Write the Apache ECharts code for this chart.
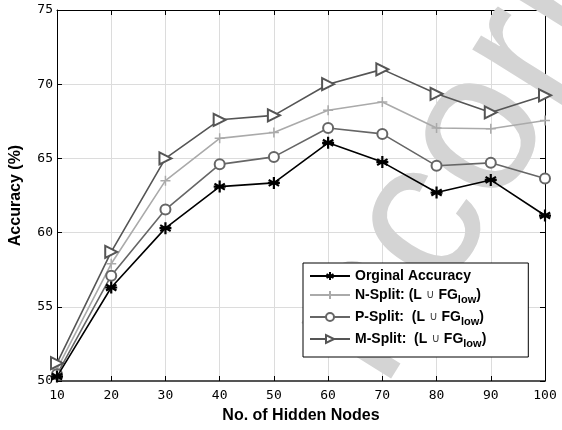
<!DOCTYPE html>
<html>
<head>
<meta charset="utf-8">
<script src="https://cdn.jsdelivr.net/npm/echarts@6/dist/echarts.min.js"></script>
<style>
  html, body { margin: 0; padding: 0; background: #fff; }
  #chart-container { width: 562px; height: 430px; }
</style>
</head>
<body>
<div id="chart-container"></div>
<script>
var hiddenNodes = [10, 20, 30, 40, 50, 60, 70, 80, 90, 100];
var originalAcc = [50.3, 56.3, 60.3, 63.1, 63.35, 66.05, 64.75, 62.7, 63.55, 61.15];
var nSplitAcc = [50.8, 57.9, 63.5, 66.35, 66.75, 68.25, 68.8, 67.05, 67.0, 67.55];
var pSplitAcc = [50.45, 57.1, 61.55, 64.6, 65.1, 67.05, 66.65, 64.5, 64.7, 63.65];
var mSplitAcc = [51.2, 58.7, 65.0, 67.6, 67.9, 70.0, 71.0, 69.35, 68.1, 69.25];
var seriesNames = ['Orginal Accuracy', 'N-Split', 'P-Split', 'M-Split'];

function pairs(vals) {
    return hiddenNodes.map(function (x, i) { return [x, vals[i]]; });
}

var dom = document.getElementById('chart-container');
var myChart = echarts.init(dom, null, { renderer: 'canvas' });

var tickFont = { fontFamily: 'DejaVu Sans Mono', fontSize: 13, color: '#000' };
var starPath = 'path://M0,-10L0,10M-8.66,-5L8.66,5M-8.66,5L8.66,-5M-10,0L10,0';
var plusPath = 'path://M0,-10L0,10M-10,0L10,0';

var option = {
    animation: false,
    backgroundColor: '#fff',
    grid: { left: 54, right: 17, top: 10, bottom: 49 },
    graphic: [{
        type: 'text',
        z: 1,
        silent: true,
        x: 337,
        y: 361,
        rotation: 58 * Math.PI / 180,
        style: {
            text: 'ncorrected',
            font: '200px "Liberation Sans"',
            fill: '#d4d4d4',
            align: 'left',
            verticalAlign: 'middle'
        }
    }],
    legend: {
        orient: 'vertical',
        left: 303,
        top: 263,
        padding: [6, 42, 8, 6],
        itemGap: 5,
        itemWidth: 40,
        itemHeight: 10,
        backgroundColor: '#fff',
        borderColor: '#000',
        borderWidth: 1,
        borderRadius: 0,
        data: seriesNames,
        formatter: function (name) {
            if (name === 'Orginal Accuracy') return '{b|Orginal Accuracy}';
            if (name === 'N-Split') return '{b|N-Split: (L }{u|∪}{b| FG}{s|low}{b|)}';
            return '{b|' + name + ':  (L }{u|∪}{b| FG}{s|low}{b|)}';
        },
        textStyle: {
            rich: {
                b: { fontFamily: 'Liberation Sans', fontWeight: 'bold', fontSize: 14, color: '#000', height: 16 },
                u: { fontFamily: 'DejaVu Sans', fontWeight: 'normal', fontSize: 12, color: '#444', height: 16 },
                s: { fontFamily: 'Liberation Sans', fontWeight: 'bold', fontSize: 11, color: '#000', verticalAlign: 'bottom', padding: [9, 0, 0, 0], height: 16 }
            }
        }
    },
    xAxis: [{
        type: 'value',
        min: 10, max: 100, interval: 10,
        name: 'No. of Hidden Nodes',
        nameLocation: 'middle',
        nameGap: 27,
        nameTextStyle: { fontFamily: 'Liberation Sans', fontWeight: 'bold', fontSize: 16, color: '#000' },
        axisLine: { lineStyle: { color: '#555', width: 2 } },
        axisTick: { inside: true, length: 5, lineStyle: { color: '#000' } },
        axisLabel: Object.assign({ margin: 8 }, tickFont),
        splitLine: { show: true, lineStyle: { color: '#dcdcdc', width: 1 } }
    }, {
        type: 'value',
        position: 'top',
        min: 10, max: 100, interval: 10,
        axisLine: { show: true, lineStyle: { color: '#000', width: 1 } },
        axisTick: { show: true, inside: true, length: 5, lineStyle: { color: '#000' } },
        axisLabel: { show: false },
        splitLine: { show: false }
    }],
    yAxis: [{
        type: 'value',
        min: 50, max: 75, interval: 5,
        name: 'Accuracy (%)',
        nameLocation: 'middle',
        nameGap: 33,
        nameTextStyle: { fontFamily: 'Liberation Sans', fontWeight: 'bold', fontSize: 16, color: '#000' },
        axisLine: { show: true, lineStyle: { color: '#000', width: 1 } },
        axisTick: { show: true, inside: true, length: 5, lineStyle: { color: '#000' } },
        axisLabel: Object.assign({ margin: 4 }, tickFont),
        splitLine: { show: true, lineStyle: { color: '#dcdcdc', width: 1 } }
    }, {
        type: 'value',
        position: 'right',
        min: 50, max: 75, interval: 5,
        axisLine: { show: true, lineStyle: { color: '#000', width: 1 } },
        axisTick: { show: true, inside: true, length: 5, lineStyle: { color: '#000' } },
        axisLabel: { show: false },
        splitLine: { show: false }
    }],
    series: [
        {
            name: seriesNames[0],
            type: 'line',
            data: pairs(originalAcc),
            symbol: starPath,
            symbolSize: 12,
            lineStyle: { color: '#000', width: 1.6 },
            itemStyle: { color: '#000', borderColor: '#000', borderWidth: 2.2 },
            z: 5
        },
        {
            name: seriesNames[1],
            type: 'line',
            data: pairs(nSplitAcc),
            symbol: plusPath,
            symbolSize: 10,
            lineStyle: { color: '#aaaaaa', width: 1.6 },
            itemStyle: { color: '#aaaaaa', borderColor: '#aaaaaa', borderWidth: 1.5 },
            z: 4
        },
        {
            name: seriesNames[2],
            type: 'line',
            data: pairs(pSplitAcc),
            symbol: 'emptyCircle',
            symbolSize: 10,
            lineStyle: { color: '#666666', width: 1.6 },
            itemStyle: { color: '#666666', borderColor: '#666666', borderWidth: 1.5 },
            z: 4
        },
        {
            name: seriesNames[3],
            type: 'line',
            data: pairs(mSplitAcc),
            symbol: 'emptyTriangle',
            symbolRotate: -90,
            symbolSize: 12,
            lineStyle: { color: '#555555', width: 1.6 },
            itemStyle: { color: '#555555', borderColor: '#555555', borderWidth: 1.5 },
            z: 4
        }
    ]
};

myChart.setOption(option);
window.addEventListener('resize', myChart.resize);
</script>
</body>
</html>
